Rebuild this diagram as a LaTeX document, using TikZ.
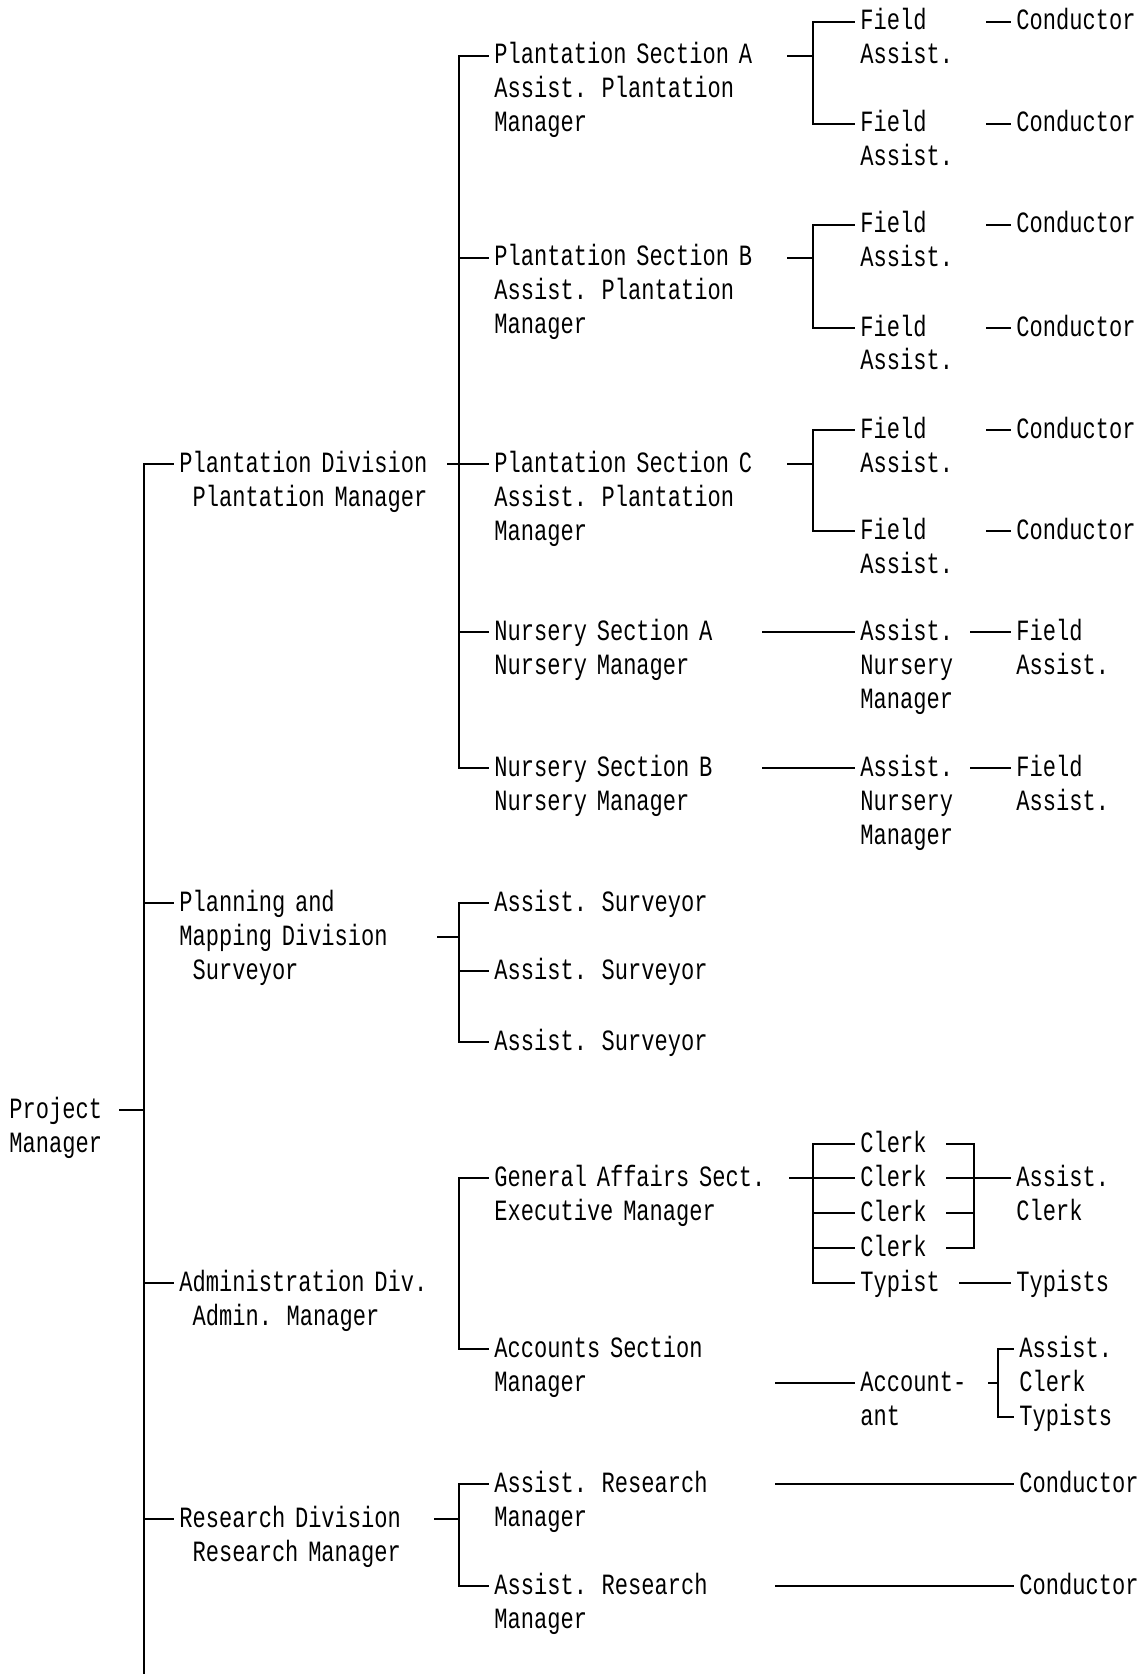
\documentclass[tikz,border=0pt]{standalone}
\usepackage{fontspec}
\setmainfont[FakeStretch=0.75]{Liberation Mono}

\begin{document}
\begin{tikzpicture}[x=0.5pt, y=-0.5pt,
    post/.style={anchor=base west, align=left, text width=170pt,
                 inner xsep=3pt, inner ysep=0pt, yshift=-1pt,
                 font=\fontsize{14.7pt}{17pt}\selectfont},
    link/.style={line width=0.9pt, line cap=rect}]

\useasboundingbox (0,0) rectangle (1142,1674);

% Project manager and main spine
\node[post] (pm) at (3,1116) {Project\\Manager};
\coordinate (pmout) at (120,1110);
\coordinate (s0) at (144,464);
\coordinate (s0end) at (144,1674);
\draw[link] (pmout) -- (pmout -| s0);
\draw[link] (s0) -- (s0end);

% Divisions
\node[post] (pd) at (173,470)  {Plantation Division\\\hphantom{x}Plantation Manager};
\node[post] (pl) at (173,909)  {Planning and\\Mapping Division\\\hphantom{x}Surveyor};
\node[post] (ad) at (173,1289) {Administration Div.\\\hphantom{x}Admin. Manager};
\node[post] (rd) at (173,1525) {Research Division\\\hphantom{x}Research Manager};
\foreach \n in {pd, pl, ad, rd}
    \draw[link] (s0) |- ([yshift=4pt]\n.base west);

% Plantation division
\coordinate (s1) at (459,56);
\coordinate (pdout) at (448,464);
\node[post] (psA) at (488,62)  {Plantation Section A\\Assist. Plantation\\Manager};
\node[post] (psB) at (488,264) {Plantation Section B\\Assist. Plantation\\Manager};
\node[post] (psC) at (488,470) {Plantation Section C\\Assist. Plantation\\Manager};
\node[post] (nsA) at (488,638) {Nursery Section A\\Nursery Manager};
\node[post] (nsB) at (488,774) {Nursery Section B\\Nursery Manager};
\draw[link] (pdout) -- (pdout -| s1);
\foreach \n in {psA, psB, psC, nsA, nsB}
    \draw[link] (s1) |- ([yshift=4pt]\n.base west);

% Field assistants and conductors
\foreach \n/\y in {fa1/28, fa2/130, fb1/231, fb2/334, fc1/436, fc2/537} {
    \node[post] (\n) at (854,\y) {Field\\Assist.};
    \node[post] (k\n) at (1010,\y) {Conductor};
    \draw[link] ([yshift=4pt]k\n.base west) -- ++(-23,0);
}
\foreach \p/\a/\b in {psA/fa1/fa2, psB/fb1/fb2, psC/fc1/fc2} {
    \draw[link] ([yshift=4pt]\a.base west) -- ++(-41,0) |- ([yshift=4pt]\b.base west);
    \draw[link] ([yshift=4pt]\p.base west) ++(300,0) -- ++(25,0);
}

% Nurseries
\node[post] (anA) at (854,638) {Assist.\\Nursery\\Manager};
\node[post] (anB) at (854,774) {Assist.\\Nursery\\Manager};
\node[post] (fnA) at (1010,638) {Field\\Assist.};
\node[post] (fnB) at (1010,774) {Field\\Assist.};
\foreach \n in {anA, anB}
    \draw[link] ([yshift=4pt]\n.base west) -- ++(-91,0);
\foreach \n in {fnA, fnB}
    \draw[link] ([yshift=4pt]\n.base west) -- ++(-39,0);

% Planning and mapping division
\coordinate (s2) at (459,903);
\coordinate (plout) at (438,937);
\foreach \n/\y in {as1/909, as2/977, as3/1048} {
    \node[post] (\n) at (488,\y) {Assist. Surveyor};
    \draw[link] (s2) |- ([yshift=4pt]\n.base west);
}
\draw[link] (plout) -- (plout -| s2);

% Administration division
\coordinate (s3) at (459,1178);
\node[post] (ga)  at (488,1184) {General Affairs Sect.\\Executive Manager};
\node[post] (acs) at (488,1355) {Accounts Section\\Manager};
\foreach \n in {ga, acs}
    \draw[link] (s3) |- ([yshift=4pt]\n.base west);

% Clerks and typists
\coordinate (s4) at (813,1144);
\coordinate (s5) at (974,1144);
\coordinate (gaout) at (790,1178);
\foreach \n/\y in {cl1/1150, cl2/1184, cl3/1219, cl4/1254}
    \node[post] (\n) at (854,\y) {Clerk};
\node[post] (ty)  at (854,1289)  {Typist};
\node[post] (acl) at (1010,1184) {Assist.\\Clerk};
\node[post] (tys) at (1010,1289) {Typists};
\draw[link] (gaout) -- (gaout -| s4);
\foreach \n in {cl1, cl2, cl3, cl4, ty}
    \draw[link] (s4) |- ([yshift=4pt]\n.base west);
\foreach \n in {cl1, cl2, cl3, cl4}
    \draw[link] ([yshift=4pt]\n.base west) ++(93,0) -| (s5);
\draw[link] (s5) |- ([yshift=4pt]acl.base west);
\draw[link] ([yshift=4pt]tys.base west) -- ++(-50,0);

% Accounts
\coordinate (s6) at (998,1349);
\node[post] (acn) at (854,1389)  {Account-\\ant};
\node[post] (aac) at (1013,1355) {Assist.\\Clerk};
\node[post] (aty) at (1013,1423) {Typists};
\draw[link] ([yshift=4pt]acn.base west) -- ++(-78,0);
\foreach \n in {aac, aty}
    \draw[link] (s6) |- ([yshift=4pt]\n.base west);
\draw[link] (s6 |- acn.base) ++(0,-8) -- ++(-9,0);

% Research division
\coordinate (s7) at (459,1484);
\coordinate (rdout) at (435,1519);
\node[post] (ar1) at (488,1490) {Assist. Research\\Manager};
\node[post] (ar2) at (488,1592) {Assist. Research\\Manager};
\node[post] (kr1) at (1013,1490) {Conductor};
\node[post] (kr2) at (1013,1592) {Conductor};
\draw[link] (rdout) -- (rdout -| s7);
\foreach \n in {ar1, ar2}
    \draw[link] (s7) |- ([yshift=4pt]\n.base west);
\foreach \n in {kr1, kr2}
    \draw[link] ([yshift=4pt]\n.base west) -- ++(-237,0);

\end{tikzpicture}
\end{document}
